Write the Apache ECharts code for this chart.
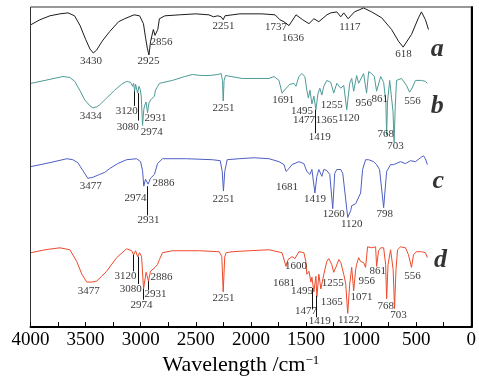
<!DOCTYPE html>
<html>
<head>
<meta charset="utf-8">
<script src="https://cdn.jsdelivr.net/npm/echarts@6/dist/echarts.min.js"></script>
<style>
  html, body { margin: 0; padding: 0; background: #fff; }
  #chart { width: 479px; height: 381px; }
</style>
</head>
<body>
<div id="chart"></div>
<script>
// wavenumber (cm-1) and transmittance (arbitrary units, traces stacked)
var specA = [[3995,309],[3914,314],[3824,318],[3733,320],[3660,321],[3600,318],[3550,308],[3500,294],[3460,284],[3430,280],[3400,283],[3350,292],[3281,302],[3200,312],[3146,315],[3060,319],[3010,318],[2975,310],[2955,295],[2940,285],[2925,278],[2910,292],[2885,304],[2870,298],[2856,296],[2845,304],[2830,315],[2780,318],[2650,319],[2500,320],[2380,319],[2340,317],[2300,318],[2270,317],[2251,314],[2235,318],[2100,320],[1900,320],[1780,319],[1737,314],[1700,312],[1654,308],[1636,307],[1590,319],[1530,314],[1473,310],[1428,315],[1383,312],[1310,319],[1275,321],[1220,322],[1184,317],[1157,321],[1117,315],[1060,322],[977,326],[904,322],[813,316],[723,304],[660,292],[618,286],[542,299],[479,316],[452,322],[416,314],[388,304]];

var specB = [[3995,249],[3869,252],[3706,256],[3643,255],[3598,251],[3553,242],[3507,232],[3460,226],[3434,224],[3400,225],[3372,227],[3309,234],[3236,242],[3173,248],[3128,251],[3092,250],[3073,246],[3064,249],[3055,241],[3046,248],[3036,247],[3028,239],[3016,246],[3005,243],[2995,236],[2983,206],[2972,222],[2965,226],[2951,230],[2938,219],[2925,229],[2910,232],[2893,234],[2875,236],[2866,242],[2845,246],[2830,249],[2712,252],[2600,256],[2531,258],[2450,257],[2377,257],[2300,258],[2269,259],[2258,252],[2251,231],[2243,252],[2230,257],[2215,256],[2079,254],[1925,254],[1835,254],[1790,256],[1745,252],[1717,239],[1681,244],[1645,248],[1609,249],[1591,246],[1564,256],[1537,259],[1510,256],[1492,242],[1478,234],[1464,242],[1446,228],[1428,236],[1410,222],[1392,238],[1374,244],[1356,237],[1338,246],[1311,252],[1293,254],[1275,250],[1248,239],[1220,249],[1184,244],[1157,247],[1130,222],[1103,249],[1085,254],[1067,241],[1040,257],[1022,249],[977,259],[950,239],[931,261],[904,259],[880,256],[859,241],[822,256],[795,250],[775,230],[768,196],[760,230],[740,252],[725,250],[710,220],[700,189],[690,225],[678,252],[633,254],[588,247],[560,240],[551,241],[542,243],[506,252],[452,252],[416,251],[398,249]];

var specC = [[3995,164],[3824,168],[3670,172],[3616,171],[3571,168],[3525,160],[3480,152],[3435,153],[3372,156],[3327,158],[3281,162],[3209,167],[3128,171],[3037,172],[3001,169],[2983,160],[2972,144],[2956,151],[2933,146],[2911,152],[2893,153],[2875,156],[2847,167],[2802,172],[2585,172],[2350,171],[2278,170],[2260,159],[2249,139],[2237,159],[2215,171],[2106,172],[1970,173],[1835,172],[1745,169],[1699,166],[1681,159],[1654,162],[1627,166],[1564,169],[1519,167],[1492,159],[1464,156],[1446,161],[1419,137],[1401,154],[1383,161],[1356,154],[1338,161],[1311,160],[1284,156],[1266,157],[1257,121],[1239,157],[1220,161],[1184,161],[1166,157],[1121,112],[1094,119],[1085,124],[1067,122],[1049,126],[1031,125],[1004,137],[986,161],[959,171],[931,171],[886,169],[859,166],[832,161],[795,122],[768,159],[732,166],[705,166],[687,164],[642,169],[597,167],[551,170],[506,169],[461,173],[434,175],[416,172],[398,166]];

var specD = [[3995,76],[3869,79],[3733,81],[3643,79],[3580,67],[3534,54],[3489,46],[3444,46],[3399,47],[3354,52],[3309,57],[3218,71],[3128,80],[3082,78],[3064,74],[3046,78],[3028,72],[3010,76],[2992,72],[2974,39],[2951,56],[2929,47],[2911,57],[2893,55],[2870,61],[2847,64],[2830,69],[2802,76],[2712,78],[2468,78],[2287,77],[2264,72],[2251,36],[2237,72],[2224,76],[2170,77],[2016,78],[1835,79],[1717,76],[1681,62],[1663,69],[1627,72],[1600,70],[1564,77],[1519,76],[1501,67],[1492,54],[1473,57],[1455,46],[1446,51],[1428,36],[1410,52],[1401,31],[1383,54],[1365,39],[1338,54],[1311,67],[1293,70],[1266,64],[1248,56],[1229,61],[1202,69],[1184,66],[1157,54],[1139,44],[1121,14],[1103,44],[1085,61],[1067,37],[1049,59],[1040,64],[1022,71],[1004,67],[977,66],[959,61],[941,82],[904,81],[868,82],[859,62],[841,78],[822,81],[795,81],[777,64],[768,29],[755,64],[732,79],[709,59],[696,19],[683,59],[669,79],[642,82],[597,81],[570,74],[542,61],[524,74],[497,77],[452,77],[416,76],[398,71]];

// peak labels: [wavenumber, level, text]
var labelsA = [[3452,272,'3430'],[2929,272,'2925'],[2811,291,'2856'],[2249,307,'2251'],[1772,306,'1737'],[1618,295,'1636'],[1102,306,'1117'],[614,279,'618']];
var labelsB = [[3453,216,'3434'],[3127,221,'3120'],[3118,204,'3080'],[2900,199,'2974'],[2865,213,'2931'],[2249,224,'2251'],[1707,232,'1691'],[1536,221,'1495'],[1518,211,'1477'],[1311,211,'1365'],[1374,194,'1419'],[1265,227,'1255'],[1112,214,'1120'],[975,229,'956'],[831,233,'861'],[777,197,'768'],[687,185,'703'],[533,231,'556']];
var labelsC = [[3453,144,'3477'],[3046,132,'2974'],[2793,147,'2886'],[2929,109,'2931'],[2249,131,'2251'],[1672,143,'1681'],[1419,131,'1419'],[1248,115,'1260'],[1085,105,'1120'],[786,115,'798']];
var labelsD = [[3471,37,'3477'],[3137,52,'3120'],[3091,39,'3080'],[2992,22,'2974'],[2865,34,'2931'],[2811,51,'2886'],[2249,30,'2251'],[1591,62,'1600'],[1699,45,'1681'],[1536,37,'1495'],[1500,16,'1477'],[1374,6,'1419'],[1256,45,'1255'],[1265,26,'1365'],[1112,7,'1122'],[995,31,'1071'],[949,47,'956'],[849,57,'861'],[777,21,'768'],[660,12,'703'],[533,52,'556']];
var traceNames = [[308,284,'a'],[308,226,'b'],[299,149,'c'],[280,68,'d']];

// leader lines: [wavenumber, from, to]
var leaders = [[3055,241,226],[3025,239,211],[1419,222,198],[2938,144,114],[3064,74,57],[3025,72,44],[2978,39,28],[2933,47,38],[1446,40,18],[1410,32,10]];

var xMin = 0, xMax = 4000, xStep = 250;

var serif = '"Liberation Serif", "DejaVu Serif", serif';
var chart = echarts.init(document.getElementById('chart'));

function spectrum(data, color) {
    return {
        type: 'line',
        data: data,
        showSymbol: false,
        symbol: 'none',
        silent: true,
        lineStyle: { color: color, width: 1 },
        z: 2
    };
}

function peakText(data, size, extra) {
    return {
        type: 'scatter',
        data: data,
        symbolSize: 0,
        silent: true,
        z: 5,
        label: Object.assign({
            show: true,
            position: 'inside',
            formatter: function (p) { return p.data[2]; },
            fontFamily: serif,
            fontSize: size,
            color: '#000'
        }, extra || {})
    };
}

var leaderSeries = {
    type: 'line',
    data: [],
    silent: true,
    markLine: {
        symbol: 'none',
        silent: true,
        label: { show: false },
        lineStyle: { color: '#111', width: 1, type: 'solid' },
        data: leaders.map(function (l) {
            return [{ coord: [l[0], l[1]] }, { coord: [l[0], l[2]] }];
        })
    }
};

var option = {
    animation: false,
    backgroundColor: '#fff',
    grid: {
        left: 30.5,
        right: 6,
        top: 7,
        bottom: 47,
        show: true,
        borderColor: '#333',
        borderWidth: 1
    },
    xAxis: {
        type: 'value',
        min: xMin,
        max: xMax,
        interval: xStep,
        inverse: true,
        name: 'Wavelength /cm{sup|−1}',
        nameLocation: 'middle',
        nameGap: 21,
        nameTextStyle: {
            fontFamily: serif,
            fontSize: 22,
            color: '#000',
            padding: [0, 20, 0, 0],
            rich: { sup: { fontFamily: serif, fontSize: 13, verticalAlign: 'top', padding: [0, 0, 8, 0], color: '#000' } }
        },
        axisLine: { show: true, lineStyle: { color: '#000', width: 2 } },
        axisTick: { show: true, inside: true, length: 5, lineStyle: { color: '#000', width: 1 } },
        axisLabel: {
            margin: 3,
            fontFamily: serif,
            fontSize: 19,
            color: '#000',
            formatter: function (v) { return v % 500 === 0 ? String(v) : ''; }
        },
        splitLine: { show: false }
    },
    yAxis: {
        type: 'value',
        min: 0,
        max: 327,
        axisLine: { show: true, lineStyle: { color: '#000', width: 2 } },
        axisTick: { show: false },
        axisLabel: { show: false },
        splitLine: { show: false }
    },
    series: [
        spectrum(specA, '#1c1c1c'),
        spectrum(specB, '#4e9b97'),
        spectrum(specC, '#4d5fc4'),
        spectrum(specD, '#ee4a2c'),
        leaderSeries,
        peakText(labelsA, 11),
        peakText(labelsB, 11),
        peakText(labelsC, 11),
        peakText(labelsD, 11),
        peakText(traceNames, 26, { fontStyle: 'italic', fontWeight: 'bold' })
    ]
};

chart.setOption(option);
</script>
</body>
</html>
